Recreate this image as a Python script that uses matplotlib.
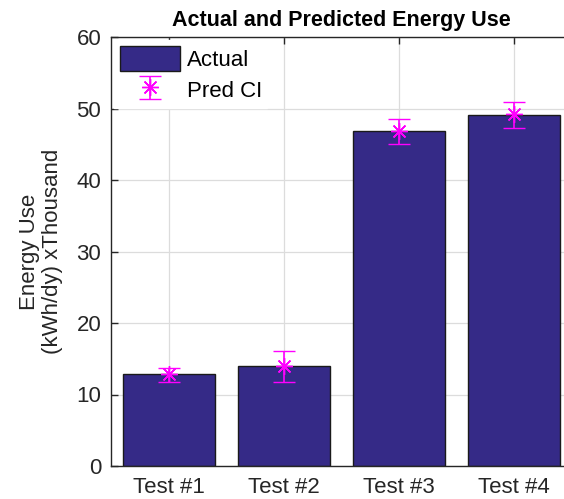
import numpy as np
from matplotlib import pyplot as plt
from matplotlib.patches import Patch

# values
tests = ['Test #1', 'Test #2', 'Test #3', 'Test #4']
actual = [12.8, 14.0, 46.9, 49.1]
pred = [12.9, 14.0, 46.9, 49.2]
ci_low = [11.8, 11.8, 45.1, 47.3]
ci_high = [13.7, 16.1, 48.6, 50.9]

plt.rcParams['font.family'] = ['Liberation Sans', 'DejaVu Sans']

axcol = '#262626'
barcol = '#352a87'
mag = '#ff00ff'

fig = plt.figure(figsize=(5.64, 4.99), dpi=100)
ax = fig.add_axes([111 / 564, 33 / 499, 460 / 564, 429 / 499])

x = np.arange(1, len(tests) + 1)
ax.bar(x, actual, width=0.8, color=barcol, edgecolor='#1a1a1a', linewidth=1.0,
       zorder=2)

pred = np.array(pred)
yerr = [pred - np.array(ci_low), np.array(ci_high) - pred]
eb = ax.errorbar(x, pred, yerr=yerr, fmt='', linestyle='none', marker=(8, 2, 0),
                 markersize=12, markeredgecolor=mag, markeredgewidth=1.0,
                 color=mag, ecolor=mag, elinewidth=1.2, capsize=8, capthick=1.2,
                 zorder=3)

ax.set_xlim(0.5, 4.5)
ax.set_ylim(0, 60)
ax.set_yticks(np.arange(0, 61, 10))
ax.set_xticks(x)
ax.set_xticklabels(tests)

ax.grid(True, color='#dcdcdc', linewidth=0.9, zorder=0)
ax.set_axisbelow(True)
ax.tick_params(direction='in', length=5, width=1.0, colors=axcol, labelsize=16,
               top=True, right=True, pad=7)
ax.tick_params(axis='x', pad=8)
for s in ax.spines.values():
    s.set_color(axcol)
    s.set_linewidth(1.0)

ax.set_ylabel('Energy Use\n(kWh/dy) xThousand', fontsize=16, color=axcol,
              labelpad=10, linespacing=1.12)
ax.set_title('Actual and Predicted Energy Use', fontsize=15.5, fontweight='bold',
             color='black', pad=8)

bar_h = Patch(facecolor=barcol, edgecolor='#1a1a1a', linewidth=1.0)
leg = ax.legend([bar_h, eb], ['Actual', 'Pred CI'], loc='upper left',
                frameon=True, fontsize=16, handlelength=2.7, handleheight=1.35,
                borderaxespad=0.15, labelspacing=0.3, handletextpad=0.3,
                borderpad=0.25)
frame = leg.get_frame()
frame.set_edgecolor('white')
frame.set_facecolor('white')
frame.set_alpha(1.0)
frame.set_boxstyle('square', pad=0)
for t in leg.get_texts():
    t.set_color('black')

fig.savefig('out.png', dpi=100)
